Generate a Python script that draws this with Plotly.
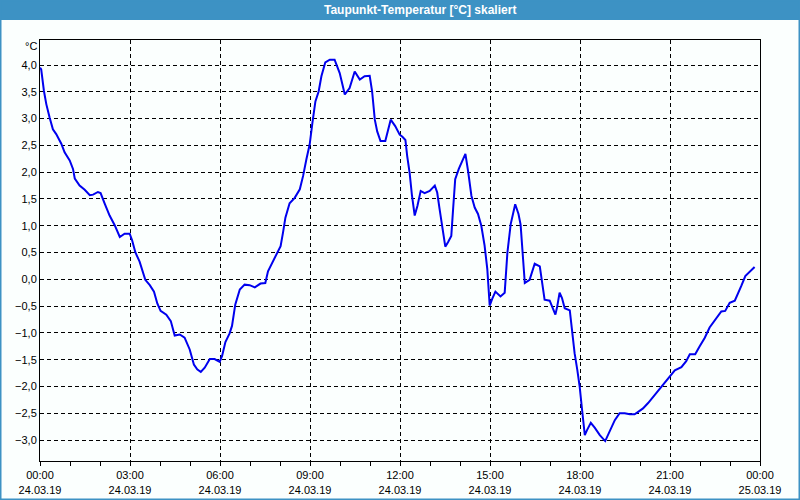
import plotly.graph_objects as go

# Time in hours since 24.03.19 00:00 and dew point temperature in °C
hours = [
    0.00, 0.04, 0.13, 0.21, 0.32, 0.43, 0.54, 0.71, 0.82, 0.99, 1.10, 1.16, 1.32, 1.49, 1.66, 1.77,
    1.93, 2.02, 2.16, 2.32, 2.49, 2.66, 2.82, 2.99, 3.07, 3.18, 3.32, 3.43, 3.51, 3.66, 3.80, 3.91,
    4.02, 4.21, 4.36, 4.49, 4.66, 4.82, 4.99, 5.13, 5.24, 5.36, 5.49, 5.66, 5.82, 5.99, 6.07, 6.18,
    6.32, 6.40, 6.51, 6.66, 6.82, 6.99, 7.16, 7.35, 7.51, 7.60, 7.77, 7.93, 8.02, 8.10, 8.18, 8.32,
    8.49, 8.66, 8.77, 8.88, 8.99, 9.08, 9.18, 9.29, 9.38, 9.51, 9.66, 9.82, 9.99, 10.16, 10.32, 10.49,
    10.66, 10.82, 10.99, 11.07, 11.16, 11.24, 11.35, 11.51, 11.60, 11.69, 11.84, 11.99, 12.08, 12.18,
    12.24, 12.32, 12.40, 12.49, 12.58, 12.69, 12.82, 12.99, 13.16, 13.24, 13.32, 13.43, 13.51, 13.60,
    13.71, 13.77, 13.84, 13.96, 14.07, 14.18, 14.27, 14.38, 14.49, 14.60, 14.71, 14.82, 14.91, 14.99,
    15.07, 15.18, 15.35, 15.49, 15.58, 15.69, 15.84, 15.95, 16.02, 16.09, 16.16, 16.32, 16.49, 16.66,
    16.73, 16.82, 16.99, 17.07, 17.18, 17.24, 17.32, 17.40, 17.49, 17.66, 17.73, 17.82, 17.91, 17.99,
    18.07, 18.16, 18.23, 18.36, 18.49, 18.66, 18.84, 18.99, 19.16, 19.32, 19.49, 19.66, 19.82, 19.95,
    20.10, 20.27, 20.49, 20.71, 20.93, 21.16, 21.38, 21.54, 21.66, 21.84, 21.99, 22.16, 22.32, 22.54,
    22.71, 22.84, 22.99, 23.16, 23.27, 23.38, 23.51, 23.66, 23.82,
]
dewpoint = [
    3.95, 3.92, 3.52, 3.27, 3.02, 2.80, 2.71, 2.53, 2.37, 2.22, 2.06, 1.88, 1.75, 1.67, 1.57, 1.58,
    1.63, 1.61, 1.41, 1.19, 1.01, 0.79, 0.85, 0.85, 0.73, 0.50, 0.33, 0.11, -0.01, -0.11, -0.23, -0.45,
    -0.59, -0.66, -0.78, -1.05, -1.03, -1.09, -1.31, -1.59, -1.68, -1.73, -1.65, -1.49, -1.49, -1.54, -1.43, -1.17,
    -1.01, -0.87, -0.47, -0.19, -0.10, -0.11, -0.15, -0.08, -0.07, 0.15, 0.34, 0.51, 0.62, 0.87, 1.15, 1.42,
    1.52, 1.68, 1.93, 2.24, 2.52, 2.92, 3.32, 3.51, 3.79, 4.05, 4.10, 4.10, 3.85, 3.45, 3.57, 3.88,
    3.73, 3.79, 3.80, 3.51, 2.98, 2.76, 2.58, 2.58, 2.80, 2.98, 2.86, 2.70, 2.66, 2.60,
    2.30, 1.99, 1.56, 1.19, 1.37, 1.65, 1.61, 1.65, 1.75, 1.62, 1.31, 0.94, 0.61, 0.69,
    0.81, 1.31, 1.87, 2.06, 2.21, 2.34, 2.02, 1.56, 1.34, 1.22, 1.00, 0.63, 0.19, -0.49,
    -0.37, -0.23, -0.32, -0.25, 0.50, 1.03, 1.40, 1.22, 1.02, 0.40, -0.07, -0.01, 0.29, 0.24,
    -0.01, -0.38, -0.40, -0.51, -0.66, -0.51, -0.25, -0.35, -0.54, -0.58, -0.95, -1.38, -1.69, -2.01,
    -2.44, -2.91, -2.82, -2.68, -2.77, -2.91, -3.02, -2.85, -2.63, -2.50, -2.50, -2.52, -2.52, -2.47,
    -2.41, -2.31, -2.16, -2.00, -1.84, -1.70, -1.64, -1.53, -1.40, -1.40, -1.25, -1.09, -0.90, -0.74,
    -0.60, -0.59, -0.44, -0.40, -0.27, -0.12, 0.06, 0.14, 0.23,
]

x_tickvals = [0, 3, 6, 9, 12, 15, 18, 21, 24]
x_ticktext = ["00:00<br>24.03.19", "03:00<br>24.03.19", "06:00<br>24.03.19", "09:00<br>24.03.19",
              "12:00<br>24.03.19", "15:00<br>24.03.19", "18:00<br>24.03.19", "21:00<br>24.03.19",
              "00:00<br>25.03.19"]
y_tickvals = [4.0, 3.5, 3.0, 2.5, 2.0, 1.5, 1.0, 0.5, 0.0, -0.5, -1.0, -1.5, -2.0, -2.5, -3.0]

title_text = "Taupunkt-Temperatur [°C] skaliert"
unit_text = "°C"

W, H = 800, 500
ML, MR, MT, MB = 40, 40, 40, 39
PW, PH = W - ML - MR, H - MT - MB

def px_x(p):
    return (p - ML) / PW

def px_y(p):
    return (H - MB - p) / PH

BAR = "#3d92c4"
FONT = "Liberation Sans"

fig = go.Figure()
fig.add_trace(go.Scatter(x=hours, y=dewpoint, mode="lines",
                         line=dict(color="#0000ee", width=2), hoverinfo="skip"))

fig.update_layout(
    width=W, height=H,
    margin=dict(l=ML, r=MR, t=MT, b=MB, autoexpand=False),
    paper_bgcolor="#fbfffe", plot_bgcolor="#fbfffe",
    separators=",.",
    showlegend=False,
    font=dict(family=FONT, size=11, color="#000000"),
    xaxis=dict(
        range=[0, 24], tickvals=x_tickvals, ticktext=x_ticktext, automargin=False,
        showgrid=True, gridcolor="#000000", griddash="4px,3px", gridwidth=1,
        showline=True, linecolor="#000000", linewidth=1, mirror=True,
        ticks="outside", ticklen=4, tickcolor="#000000",
        minor=dict(dtick=1, tick0=0, ticks="outside", ticklen=4, tickcolor="#000000", showgrid=False),
        zeroline=False, tickfont=dict(family=FONT, size=11),
    ),
    yaxis=dict(
        range=[-3.392, 4.467], tickvals=y_tickvals, tickformat=".1f", automargin=False,
        showgrid=True, gridcolor="#000000", griddash="4px,3px", gridwidth=1,
        showline=True, linecolor="#000000", linewidth=1, mirror=True,
        ticks="", zeroline=False, tickfont=dict(family=FONT, size=11),
    ),
    shapes=[
        dict(type="rect", xref="paper", yref="paper",
             x0=px_x(0), x1=px_x(W), y0=px_y(20), y1=px_y(0),
             fillcolor=BAR, line=dict(width=0), layer="above"),
        dict(type="rect", xref="paper", yref="paper",
             x0=px_x(0.5), x1=px_x(W - 0.5), y0=px_y(H - 0.5), y1=px_y(0.5),
             fillcolor="rgba(0,0,0,0)", line=dict(color=BAR, width=2), layer="above"),
    ],
    annotations=[
        dict(text="<b>" + title_text + "</b>", xref="paper", yref="paper",
             x=px_x(420), y=px_y(10), xanchor="center", yanchor="middle",
             showarrow=False, font=dict(family=FONT, size=12, color="#ffffff")),
        dict(text=unit_text, xref="paper", yref="paper",
             x=px_x(39), y=px_y(46), xanchor="right", yanchor="middle",
             showarrow=False, font=dict(family=FONT, size=11, color="#000000")),
    ],
)

fig.write_html("out.html")
